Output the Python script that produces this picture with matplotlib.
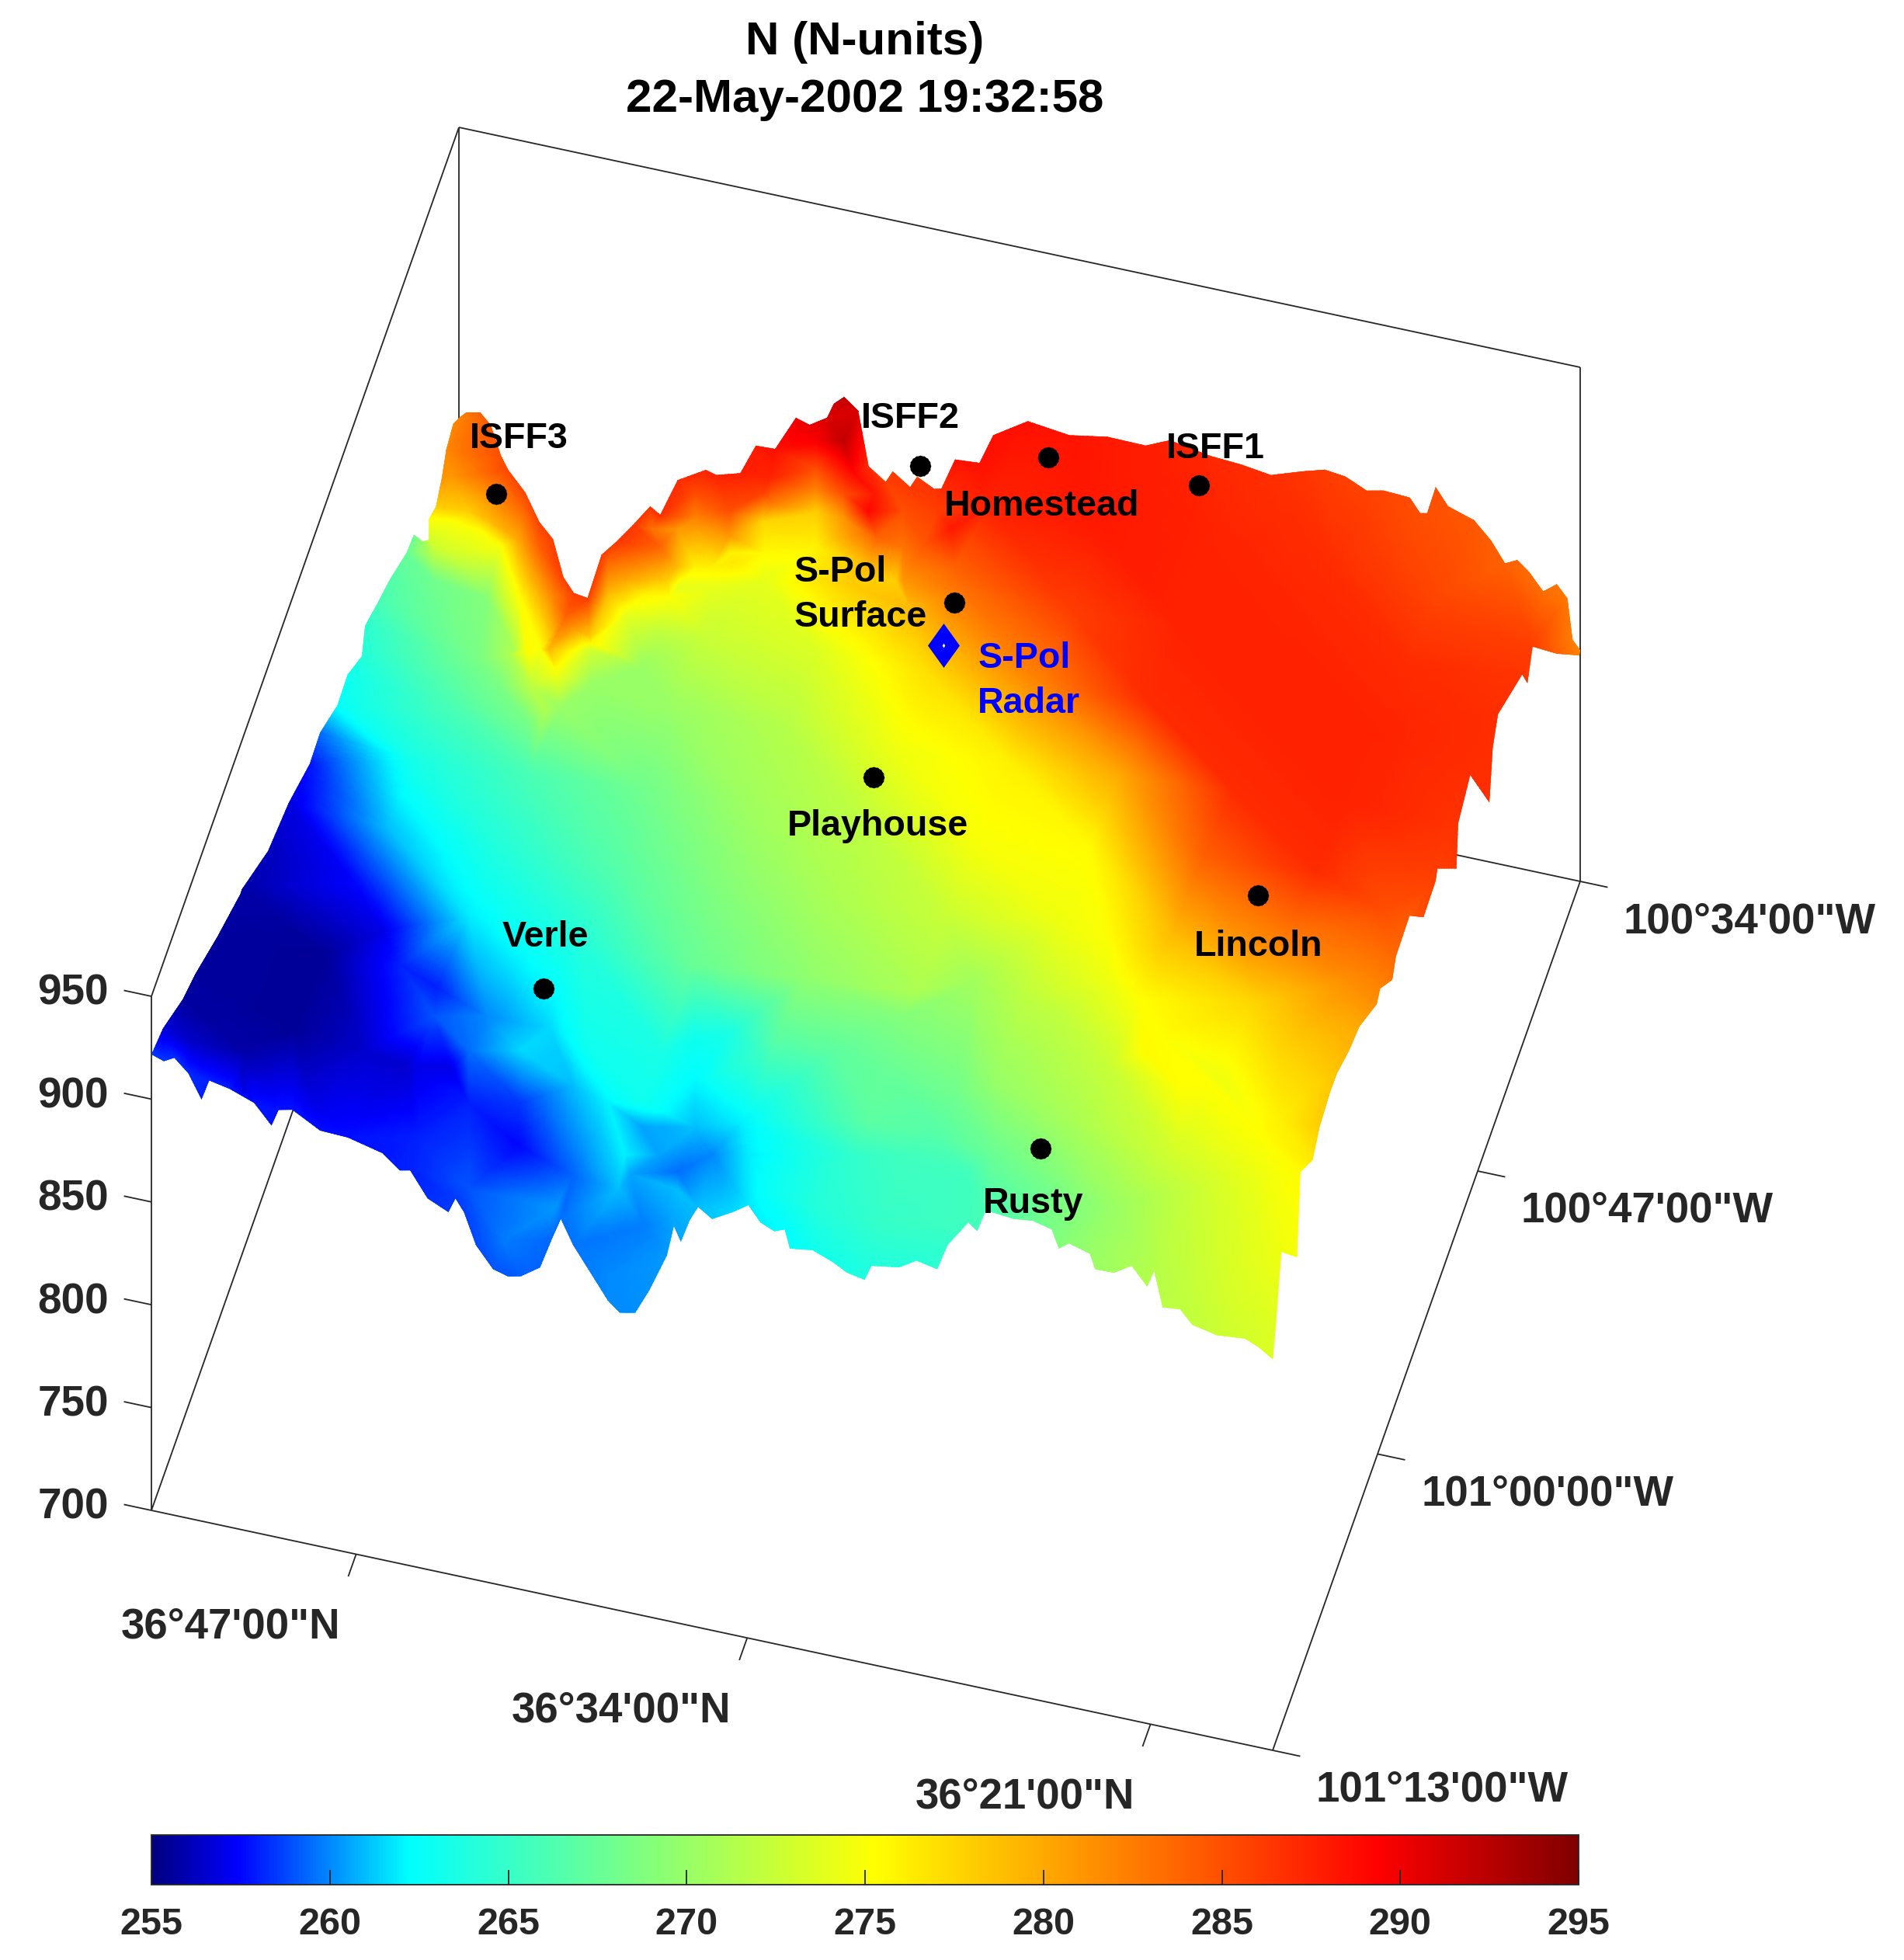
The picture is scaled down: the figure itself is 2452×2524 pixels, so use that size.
import numpy as np
import matplotlib
matplotlib.use('Agg')
import matplotlib.pyplot as plt
import matplotlib.tri as mtri
from matplotlib.colors import LinearSegmentedColormap, Normalize
from matplotlib.cm import ScalarMappable
from matplotlib.patches import Polygon

plt.rcParams['font.family'] = ['Liberation Sans', 'DejaVu Sans']
plt.rcParams['font.weight'] = 'bold'

# latitude is in arc minutes past 36N, longitude in arc minutes past 100W
lat_north, lat_south = 53.7, 17.0
lon_west, lon_east = 73.0, 34.0
z_ticks = [700, 750, 800, 850, 900, 950]
lat_ticks = [47, 34.2, 21]
lat_labels = ['36°47\'00"N', '36°34\'00"N', '36°21\'00"N']
lon_ticks = [73, 59.7, 47, 34]
lon_labels = ['101°13\'00"W', '101°00\'00"W', '100°47\'00"W', '100°34\'00"W']
cbar_ticks = [255, 260, 265, 270, 275, 280, 285, 290, 295]

# south-west to south-east rim of the surface
front_lat = [53.7, 53.29, 52.95, 52.49, 52.06, 51.81, 51.13, 50.34, 49.77, 49.54, 49.09, 48.18, 47.27, 46.14, 45.57,
             45.23, 44.66, 43.98, 43.75, 43.47, 43.08, 42.51, 42.05, 41.6, 40.98, 40.58, 40.3, 39.9, 39.33, 38.76,
             38.37, 37.86, 37.4, 36.83, 36.6, 36.37, 36.09, 35.81, 35.35, 34.67, 34.16, 33.76, 33.31, 32.97, 32.8,
             32.06, 31.38, 30.93, 30.36, 30.13, 29.23, 28.66, 27.98, 27.64, 26.96, 26.67, 26.39, 25.48, 24.86, 24.23,
             24.0, 23.67, 22.98, 22.81, 22.19, 21.62, 21.11, 20.88, 20.6, 20.03, 19.63, 18.82, 17.91, 17.46, 17.0]
front_elev = [921.8, 919.8, 922.5, 916.4, 905.1, 915.1, 913.1, 908.9, 899.7, 908.0, 909.5, 902.3, 901.8, 897.8, 891.2,
              892.3, 880.5, 876, 883.4, 877.6, 862.9, 852.8, 850.9, 852.4, 858.6, 874.2, 884.4, 873, 861.3, 849.6,
              844.9, 846.6, 859, 877.6, 892.7, 885.8, 896.9, 904.5, 900.1, 905.6, 910.6, 903.4, 900.6, 902.6, 893.8,
              895.4, 891.6, 888, 886.4, 893.9, 896, 901.1, 899.1, 912, 925.1, 921.8, 932.8, 931.5, 932.6, 930.4,
              921.8, 925.4, 922.5, 915.5, 915.8, 921, 912.5, 920.8, 904, 904.9, 898.6, 896.1, 897.4, 894.6, 890.3]
front_n = [258.5, 258.5, 258.3, 258.2, 258, 258, 258, 257.8, 257.8, 257.8, 257.8, 257.7, 257.7, 257.8, 258,
           258, 258.3, 258.5, 258.5, 258.6, 258.8, 259, 259, 259.2, 259.3, 259.4, 259.5, 259.6, 259.8, 260,
           260, 260.1, 260.2, 260.3, 260.5, 260.6, 260.8, 261, 261.2, 261.5, 261.8, 262, 262.2, 262.3, 262.5,
           263, 263.3, 263.7, 263.8, 263.9, 264, 264.2, 264.5, 264.8, 265.5, 265.7, 266, 267, 267.6, 268.5,
           269, 269.3, 270, 270.2, 270.6, 271, 271.3, 271.5, 271.8, 272, 272.2, 272.6, 273, 273.3, 273.5]

# south-east to north-east rim
right_lon = [72.57, 71.91, 69.93, 69.49, 67.95, 67.07, 65.75, 64.88, 63.34, 62.02, 59.81, 59.38, 57.84, 57.4, 55.64,
             53.88, 52.34, 52.12, 49.71, 49.48, 47.95, 45.52, 45.09, 44.43, 41.35, 40.69, 40.03, 36.96, 34.1]
right_elev = [904, 930.6, 906.6, 943.2, 932.4, 938.9, 941.4, 941.2, 935.5, 933, 920, 922.9, 910.5, 916.7, 917.8,
              898, 898.9, 902.6, 876.5, 895.9, 902.9, 863.2, 885.4, 894.3, 880.3, 868.9, 879.5, 842.8, 811]
right_n = [273.7, 274.5, 274.8, 275.5, 276.5, 278, 278.2, 278.5, 279.3, 280, 281.5, 282, 283, 283.5, 284.5,
           285.3, 285.8, 286, 286.4, 286.6, 286.8, 286.8, 286.8, 286.8, 286.5, 286.5, 286, 284, 282]

# north-west to north-east rim
back_lat = [53.67, 53.46, 53.0, 52.66, 52.32, 52.09, 51.53, 51.07, 50.62, 50.28, 49.94, 49.49, 49.03, 48.58, 48.01,
            47.44, 47.11, 46.54, 45.62, 45.28, 44.49, 43.98, 43.35, 42.67, 42.22, 41.65, 41.43, 41.09, 40.63, 40.29,
            39.73, 39.5, 38.93, 38.7, 38.14, 37.91, 37.46, 36.66, 36.21, 35.08, 33.72, 32.47, 31.22, 30.43, 29.1,
            28.08, 27.12, 26.15, 25.36, 24.68, 23.99, 23.43, 22.58, 22.24, 22.01, 21.73, 21.33, 20.48, 19.91, 19.46,
            19.06, 18.67, 18.21, 17.76, 17.42, 17.25, 17.0]
back_elev = [809.2, 812.1, 813.5, 808.6, 794.6, 788.6, 779.4, 766.5, 759.5, 742.1, 735.5, 734.5, 757, 764.3, 774.6,
             785.6, 782.5, 801.2, 809.1, 807.7, 811.1, 826.1, 826.5, 843.8, 841.8, 847.1, 854.5, 859, 853.7, 827.8,
             822, 827.8, 822, 827.8, 823.6, 824.4, 840.1, 841, 855.9, 866.3, 863.8, 867, 866.7, 871.8, 868.4,
             867.4, 865.4, 870.2, 873.6, 872.4, 867.8, 869.6, 868.9, 862.4, 863.1, 876.7, 868.7, 864.6, 856.3, 846.8,
             849.7, 845.1, 837.2, 842.1, 836.4, 816.7, 812.4]
back_n = [282, 283, 284, 284.5, 285, 285.5, 285.5, 285.7, 286, 286, 286, 286, 286, 286.3, 286.5,
          286.7, 286.8, 287, 287.3, 287.5, 287.7, 288, 288.5, 290, 290.3, 291, 291.5, 292, 291, 287,
          286, 286, 286.2, 286.2, 286.5, 287, 288.5, 288.5, 288.5, 288.5, 288.3, 288, 287.8, 287.5, 287.2,
          287, 286.8, 286.5, 286, 285.8, 285.7, 285.5, 285.2, 285, 285, 285, 284.8, 284.5, 284.2, 284,
          283.8, 283.5, 283.3, 283, 282.8, 282.4, 282]

# south-west to north-west rim
left_lon = [71.6, 69.0, 67.45, 64.6, 61.7, 61.5, 58.2, 55.6, 52.9, 51.6, 49.4, 48.1, 46.3, 45.9, 44.1,
            42.8, 40.6, 39.7, 38.6, 37.8, 37.8, 36.9, 36.2, 35.6, 34.7]
left_elev = [918.7, 905.2, 900.4, 888, 877.2, 877.5, 860.3, 855.3, 845.3, 846.3, 835.8, 836.7, 826.1, 836.5, 829.3,
             825.1, 814.7, 813.6, 798.4, 790.5, 800.6, 797, 802.5, 810.5, 813.6]
left_n = [256.8, 255.6, 255.6, 255.6, 255.8, 255.8, 256.2, 256.8, 257.8, 259.5, 262.5, 263, 264, 264.5, 266,
          266.5, 267.5, 267.5, 270, 273, 275, 278, 281, 282, 282]

# inside of the surface
grid_lat = [50.03, 46.36, 42.69, 39.02, 35.35, 31.68, 28.01, 24.34, 20.67]
grid_lon = [69.1, 65.2, 61.3, 57.4, 53.5, 49.6, 45.7, 41.8, 37.9]
grid_elev = [[903, 897, 870, 868, 905, 900, 903, 930, 920],
             [897, 893, 885, 885, 900, 900, 905, 925, 930],
             [890, 885, 885, 885, 890, 895, 905, 915, 925],
             [875, 878, 880, 880, 885, 890, 900, 905, 915],
             [865, 870, 875, 878, 880, 885, 893, 900, 905],
             [850, 860, 870, 875, 875, 880, 885, 890, 895],
             [830, 850, 865, 870, 870, 875, 878, 882, 885],
             [790, 840, 858, 860, 868, 870, 873, 875, 878],
             [750, 820, 850, 840, 866, 868, 870, 872, 870]]
grid_n = [[255.5, 256.5, 257.5, 260.5, 262, 264.8, 265.5, 270.5, 272.5],
          [255.5, 258, 261.5, 263.5, 266.5, 267.5, 270, 272.5, 274.5],
          [257.5, 261.8, 264, 267.5, 269.5, 271, 272, 275.3, 277.5],
          [261, 264, 266.5, 269, 271, 272.5, 274.5, 279, 282.5],
          [263.5, 266, 268, 270.5, 272, 275, 275.5, 284, 287],
          [266, 270, 270, 271.5, 274.5, 276, 280, 287, 287.5],
          [268.5, 276, 272.5, 273.5, 277, 282, 287, 287.5, 287.5],
          [271, 281, 276.5, 278, 283, 286, 287.5, 287.5, 287],
          [275, 283, 286, 284, 287.5, 288, 287.5, 287, 285.5]]

# spots where the colour changes quickly: ridge north-west, canyons south-west, yellow belt
spot_lat = [53.48, 52.58, 52.99, 52.65, 53.18, 52.88, 51.98, 51.79, 51.25, 50.8, 50.09, 50.06, 49.22, 48.51, 50.69,
            51.12, 49.29, 48.66, 48.14, 48.22, 48.81, 49.71, 48.09, 48.54, 49.58, 47.54, 47.39, 46.71, 47.02, 45.62,
            45.47, 46.41, 47.08, 47.46, 47.84, 46.4, 45.82, 45.53,
            45.05, 44.3, 44.75, 45.17, 44.76, 44.23, 44.53, 43.77, 43.51, 43.32, 43.7, 43.48, 42.88, 42.58, 42.61,
            42.27, 41.97, 41.88, 41.58, 41.36, 41.13, 40.76, 41.04, 40.39, 40.48, 40.22, 39.55, 39.53, 39.43, 38.95,
            37.96, 37.24, 38.5, 37.45, 36.83, 37.49, 38.12, 36.32, 37.75,
            53.07, 51.41, 50.96, 48.74, 45.2, 44.9, 48.5, 47.6, 45.98, 47.72, 45.95, 44.0, 44.55,
            43.73, 42.55, 41.35, 41.16, 39.02, 39.64, 39.8, 40.44, 41.68,
            43.08, 45.06, 43.64, 41.53, 39.39, 39.13, 38.3, 38.52, 37.4,
            37.98, 38.51, 37.53, 37.58, 36.71, 35.65, 34.76, 32.98, 30.69, 30.91, 32.33, 30.04, 29.99, 28.27, 26.31,
            24.02, 26.01, 32.4, 34.14, 36.25, 37.49, 30.66, 27.65, 26.44, 24.64, 23.22,
            23.44, 21.3, 19.16, 21.61, 18.82, 25.95, 21.74, 18.2, 18.13, 19.56, 17.89]
spot_lon = [35.77, 37.07, 37.65, 38.95, 39.11, 40.27, 37.2, 37.92, 38.23, 37.79, 37.89, 40.22, 39.97, 40.55, 40.4,
            40.52, 42.32, 42.14, 41.03, 42.94, 43.74, 42.45, 44.77, 45.22, 44.28, 41.19, 41.76, 40.01, 43.21, 42.03,
            40.42, 38.99, 38.57, 39.3, 37.85, 36.81, 38.19, 38.89,
            37.62, 38.33, 38.77, 39.36, 40.95, 40.79, 41.82, 38.17, 39.18, 39.9, 40.64, 41.51, 36.35, 37.51, 38.3,
            39.6, 40.76, 34.51, 35.66, 36.53, 37.4, 38.84, 34.26, 35.47, 36.43, 37.44, 36.93, 36.15, 37.83, 39.25,
            39.58, 40.61, 36.62, 36.32, 36.91, 37.88, 38.07, 38.47, 39.52,
            70.34, 70.16, 71.9, 71.71, 72.23, 69.03, 63.86, 65.15, 67.01, 69.08, 69.33, 70.32, 68.15,
            71.35, 71.5, 69.59, 68.13, 72.02, 68.31, 66.8, 66.5, 66.09,
            67.27, 63.97, 65.11, 64.49, 66.19, 67.2, 68.21, 69.54, 69.5,
            65.0, 62.98, 66.74, 68.77, 67.74, 67.43, 68.72, 68.98, 69.08, 66.03, 64.9, 65.0, 62.97, 65.26, 66.25,
            66.35, 63.04, 60.25, 62.32, 62.94, 62.52, 58.18, 58.86, 56.95, 59.53, 60.67,
            62.56, 64.26, 65.97, 67.47, 65.09, 59.41, 58.17, 58.69, 63.34, 62.2, 55.48]
spot_elev = [800] * 38 + [840] * 39 + [900] * 13 + [870, 850, 850, 850, 850, 850, 850, 870, 870,
                                                   870, 870, 870, 870, 870, 870, 870, 850, 870] + \
            [870] * 26 + [915] * 11
spot_n = [281, 278, 275, 273, 272, 268, 279, 275, 275, 280, 284, 275.5, 281, 284, 272,
          269, 275.5, 279, 281, 275, 272, 271, 271, 268.5, 268.5, 278, 273, 274, 270, 270,
          272, 276, 280, 279, 284, 284, 278, 275,
          285.5, 284, 282, 281, 279, 276, 274, 285, 281, 276, 276, 274, 287.5, 282.5, 277.5,
          275.5, 274, 289.5, 285, 282, 278, 276, 292, 289, 285, 281, 289, 288, 283, 279,
          278, 279, 285, 286, 288, 284.5, 283, 284, 281,
          256.5, 255.8, 257, 257, 258, 257, 257, 258, 259, 256.5, 257, 258, 259.5,
          259, 259.7, 260.3, 259.3, 260, 261, 262, 262, 261,
          258.5, 260, 261.5, 263, 263, 260.5, 260.5, 259.8, 261,
          262, 263, 261, 259.5, 260, 261.8, 262.5, 264, 265, 265.5, 267, 266.5, 268, 267.5, 268,
          270, 271, 269, 267, 265.5, 263.5, 270.5, 272, 274.5, 275.5, 275.3,
          275.3, 275.3, 275.3, 273, 276, 275, 281, 281.5, 277.5, 277.5, 285]

# stations
site_names = ['ISFF3', 'ISFF2', 'ISFF1', 'Homestead', 'Playhouse', 'Verle', 'Rusty', 'Lincoln', 'S-Pol\nSurface']
site_lat = [51.94, 38.57, 29.21, 34.2, 35.75, 43.4, 26.12, 22.01, 35.5]
site_lon = [36.09, 34.14, 35.04, 34.79, 50.98, 63.17, 67.12, 55.47, 41.68]
site_elev = [800, 835, 865, 860, 875, 880, 900, 910, 860]
radar_lat, radar_lon, radar_elev = 35.37, 43.56, 860

# label offsets from their marker, in pixels
site_dx = [29, -13, 21, -9, 6, 2, -9, 1, -206]
site_dy = [-71, -61, -47, 63, 63, -66, 71, 66, -10]
site_ha = ['center'] * 8 + ['left']

W, H = 2452, 2524
z_scale = 2.648
corner = (195.0, 1945.0)
lat_vec = (1444.0, 309.0)
lon_vec = (396.0, -1119.0)


def project(lat, lon, elev):
    u = (lat_north - np.asarray(lat, float)) / (lat_north - lat_south)
    v = (lon_west - np.asarray(lon, float)) / (lon_west - lon_east)
    x = corner[0] + lat_vec[0] * u + lon_vec[0] * v
    y = corner[1] + lat_vec[1] * u + lon_vec[1] * v - z_scale * (np.asarray(elev, float) - 700)
    return x, y


jet_like = LinearSegmentedColormap.from_list('jet_like', [
    (0.0, (0, 0, 0.5)), (0.06, (0, 0, 1)), (0.18, (0, 1, 1)),
    (0.507, (1, 1, 0)), (0.86, (1, 0, 0)), (1.0, (0.5, 0, 0))], N=512)

fig = plt.figure(figsize=(W / 100, H / 100), dpi=100)
ax = fig.add_axes([0, 0, 1, 1])
ax.set_xlim(0, W)
ax.set_ylim(H, 0)
ax.axis('off')

line_kw = dict(color='#262626', lw=1.3, zorder=1, solid_capstyle='butt')


def box_line(a, b):
    xa, ya = project(*a)
    xb, yb = project(*b)
    ax.plot([xa, xb], [ya, yb], **line_kw)


box_line((lat_north, lon_west, 700), (lat_south, lon_west, 700))
box_line((lat_south, lon_west, 700), (lat_south, lon_east, 700))
box_line((lat_south, lon_east, 700), (lat_north, lon_east, 700))
box_line((lat_north, lon_east, 700), (lat_north, lon_west, 700))
box_line((lat_north, lon_west, 700), (lat_north, lon_west, 950))
box_line((lat_north, lon_west, 950), (lat_north, lon_east, 950))
box_line((lat_north, lon_east, 950), (lat_south, lon_east, 950))
box_line((lat_north, lon_east, 700), (lat_north, lon_east, 950))
box_line((lat_south, lon_east, 700), (lat_south, lon_east, 950))

for z in z_ticks:
    box_line((lat_north, lon_west, z), (lat_north + 0.9, lon_west, z))
    x, y = project(lat_north, lon_west, z)
    ax.text(140, y - 3, str(z), ha='right', va='center', fontsize=39.5, color='#262626')

for t, s in zip(lat_ticks, lat_labels):
    box_line((t, lon_west, 700), (t, lon_west + 1.0, 700))
    x, y = project(t, lon_west, 700)
    ax.text(x - 162, y + 94, s, ha='center', va='center', fontsize=39.3, color='#262626')

for t, s in zip(lon_ticks, lon_labels):
    box_line((lat_south, t, 700), (lat_south - 0.9, t, 700))
    x, y = project(lat_south, t, 700)
    ax.text(x + 56, y + 52, s, ha='left', va='center', fontsize=39.3, color='#262626')

# surface: rim, inner nodes and spots, clipped to the rim outline
front_x, front_y = project(front_lat, lon_west, front_elev)
right_x, right_y = project(lat_south, right_lon, right_elev)
back_x, back_y = project(back_lat, lon_east, back_elev)
left_x, left_y = project(lat_north, left_lon, left_elev)
lat2, lon2 = np.meshgrid(grid_lat, grid_lon)
inner_x, inner_y = project(lat2, lon2, grid_elev)
spot_x, spot_y = project(spot_lat, spot_lon, spot_elev)

px = np.concatenate([front_x, right_x, back_x, left_x, inner_x.ravel(), spot_x])
py = np.concatenate([front_y, right_y, back_y, left_y, inner_y.ravel(), spot_y])
pn = np.concatenate([front_n, right_n, back_n, left_n, np.ravel(grid_n), spot_n])

# gouraud blends rgb, so subdivide first to follow the colormap between nodes
triang = mtri.Triangulation(px, py)
refiner = mtri.UniformTriRefiner(triang)
fine_tri, fine_n = refiner.refine_field(pn, triinterpolator=mtri.LinearTriInterpolator(triang, pn), subdiv=3)
mesh = ax.tripcolor(fine_tri, fine_n, shading='gouraud', cmap=jet_like, vmin=255, vmax=295, zorder=2)
outline = np.column_stack([np.concatenate([front_x, right_x, back_x[::-1], left_x[::-1]]),
                           np.concatenate([front_y, right_y, back_y[::-1], left_y[::-1]])])
clip = Polygon(outline, closed=True, transform=ax.transData, fc='none', ec='none')
ax.add_patch(clip)
mesh.set_clip_path(clip)

# stations
sx, sy = project(site_lat, site_lon, site_elev)
ax.plot(sx, sy, ls='none', marker=(8, 0, 0), ms=20, color='k', mew=0, zorder=4)
ax.plot(sx, sy, ls='none', marker=(8, 0, 22.5), ms=20, color='k', mew=0, zorder=4)
for x, y, name, dx, dy, ha in zip(sx, sy, site_names, site_dx, site_dy, site_ha):
    ax.text(x + dx, y + dy, name, ha=ha, va='center', fontsize=33.6, color='k', zorder=5, linespacing=1.4)

rx, ry = project(radar_lat, radar_lon, radar_elev)
diamond = [(0, 1), (0.72, 0), (0, -1), (-0.72, 0), (0, 1)]
ax.plot([rx], [ry], ls='none', marker=diamond, ms=41, color='#0000ff', mew=0, zorder=4)
ax.plot([rx], [ry], ls='none', marker='d', ms=3, color='w', mew=0, zorder=5)
ax.text(rx + 44, ry + 46, 'S-Pol\nRadar', ha='left', va='center', fontsize=33.6, color='#0000ff',
        zorder=5, linespacing=1.4)

ax.text(1114, 55, 'N (N-units)', ha='center', va='center', fontsize=43.3, color='k')
ax.text(1114, 129, '22-May-2002 19:32:58', ha='center', va='center', fontsize=43.3, color='k')

# colorbar
cax = fig.add_axes([195 / W, 1 - 2427 / H, 1838 / W, 64 / H])
cbar = fig.colorbar(ScalarMappable(Normalize(255, 295), jet_like), cax=cax, orientation='horizontal',
                    ticks=cbar_ticks)
cbar.ax.tick_params(direction='in', length=13.5, width=1.3, color='#262626', pad=21,
                    labelsize=35, labelcolor='#262626')
cbar.outline.set_edgecolor('#262626')
cbar.outline.set_linewidth(1.3)

fig.savefig('out.png', dpi=100)
